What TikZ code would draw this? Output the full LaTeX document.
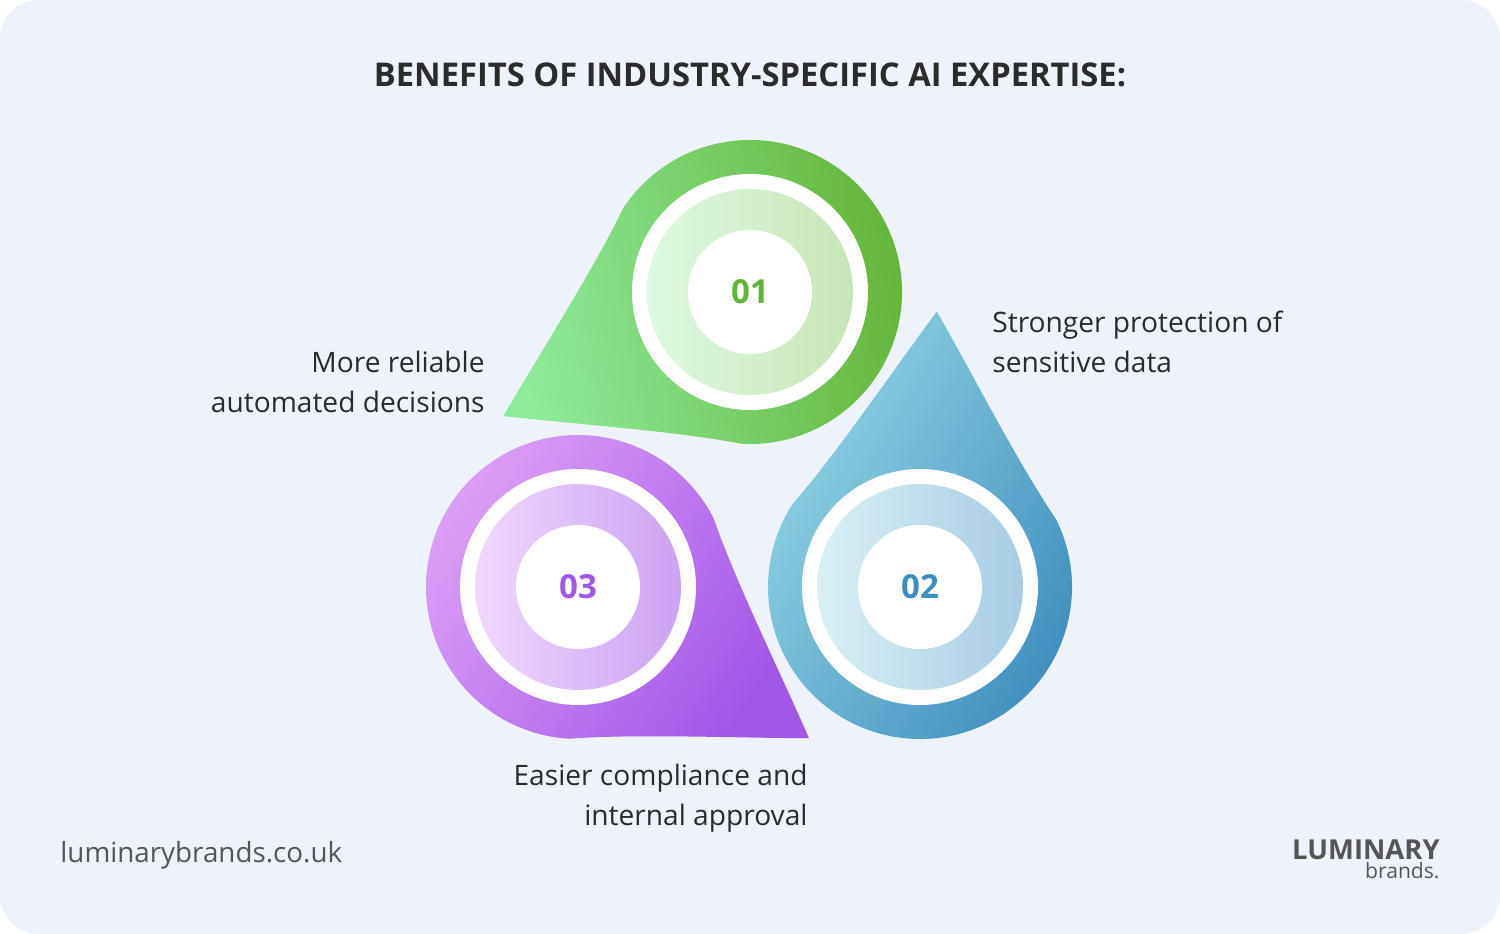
\documentclass[tikz,border=0pt]{standalone}
\usepackage{fontspec}
\setmainfont{Open Sans}
\usepackage{tikz}

\definecolor{bgc}{HTML}{EEF2FA}
\definecolor{gA}{HTML}{8EEB9C}
\definecolor{gB}{HTML}{62B434}
\definecolor{bA}{HTML}{92D5E2}
\definecolor{bB}{HTML}{3D8DBF}
\definecolor{pA}{HTML}{DA9EF6}
\definecolor{pB}{HTML}{A057E8}
\definecolor{txt}{HTML}{2B2B2B}
\definecolor{grey}{HTML}{555555}

\tikzset{
  drop/.pic={
    \path[pic actions] (276,0) .. controls (215,40) and (130,90) .. (60:152)
      arc[start angle=60,end angle=300,radius=152]
      .. controls (130,-90) and (215,-40) .. (276,0) -- cycle;
  },
  ring/.style={fill=white},
  label/.style={font=\fontsize{8}{11.3}\selectfont, text=txt},
  num/.style={font=\bfseries\fontsize{9.4}{10}\selectfont}
}

\begin{document}
\begin{tikzpicture}[x=0.01cm,y=-0.01cm]
\fill[white] (0,0) rectangle (1500,934);
\fill[bgc, rounded corners=11pt] (0,0) rectangle (1500,934);

\node[font=\bfseries\fontsize{9.3}{10}\selectfont, text=txt] (title) at (750,75) {BENEFITS OF INDUSTRY-SPECIFIC AI EXPERTISE:};

% drops
\pic[shift={(750,292)}, rotate=-153.3, left color=gA, right color=gB, shading angle=100] {drop};
\pic[shift={(920,587)}, rotate=86.5, left color=bA, right color=bB, shading angle=60] {drop};
\pic[shift={(578,587)}, rotate=-33.2, left color=pA, right color=pB, shading angle=56.8] {drop};

% 01
\fill[ring] (750,292) circle (118);
\shade[left color=gA!30, right color=gB!35] (750,292) circle (103);
\node[circle, fill=white, minimum size=124*0.01cm, num, text=gB] (n1) at (750,292) {01};
% 02
\fill[ring] (920,587) circle (118);
\shade[left color=bA!35, right color=bB!45] (920,587) circle (103);
\node[circle, fill=white, minimum size=124*0.01cm, num, text=bB] (n2) at (920,587) {02};
% 03
\fill[ring] (578,587) circle (118);
\shade[left color=pA!40, right color=pB!55] (578,587) circle (103);
\node[circle, fill=white, minimum size=124*0.01cm, num, text=pB] (n3) at (578,587) {03};

% labels
\node[label, align=right, anchor=east] (t1) at (497,382) {More reliable\\automated decisions};
\node[label, align=left, anchor=west] (t2) at (980,342) {Stronger protection of\\sensitive data};
\node[label, align=right, anchor=east] (t3) at (820,798) {Easier compliance and\\internal approval};

% footer
\node[font=\fontsize{7.9}{9}\selectfont, text=grey, anchor=west] (url) at (48,855) {luminarybrands.co.uk};
\node[font=\bfseries\fontsize{7.8}{8}\selectfont, text=grey, anchor=east] (logo) at (1452,850) {LUMINARY};
\node[font=\fontsize{6}{6}\selectfont, text=grey, anchor=east] (brands) at (1452,871) {brands.};
\end{tikzpicture}
\end{document}
